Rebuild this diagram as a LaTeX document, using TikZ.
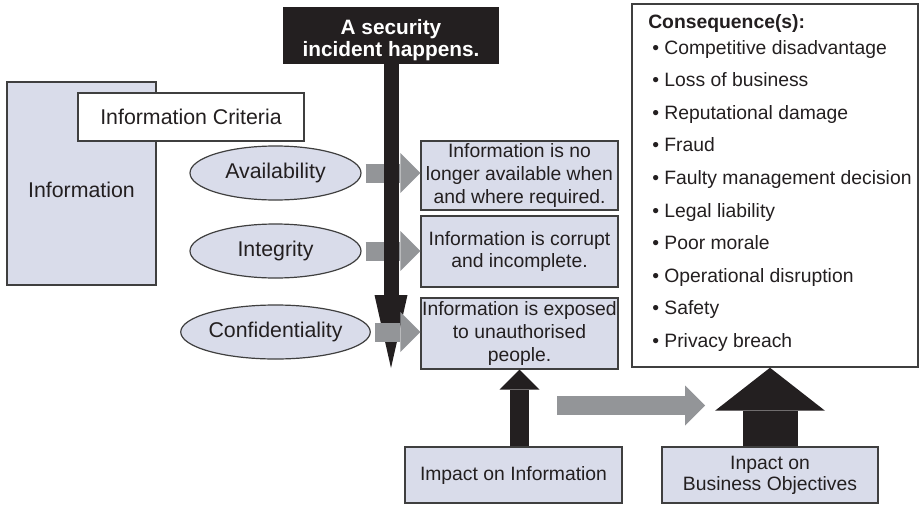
\documentclass[tikz,border=0pt]{standalone}
\usepackage{fontspec}
\setmainfont{Liberation Sans}
\usetikzlibrary{arrows.meta,shapes.geometric,calc}
\definecolor{lav}{HTML}{D9DCEA}
\definecolor{ink}{HTML}{231F20}
\definecolor{arrgray}{HTML}{939598}
\definecolor{edge}{HTML}{3F3F3F}
% lengths given in pixel units (1px = 0.75pt)
\newcommand\pxu[1]{#1*0.75pt}
\begin{document}
\begin{tikzpicture}[x=0.75pt,y=-0.75pt,
  font=\fontsize{14.5}{17}\selectfont, text=ink,
  box/.style={draw=edge, line width=0.8pt, fill=lav, inner sep=0pt, align=center},
  boxtext/.style={font=\fontsize{14.5}{16.9}\selectfont},
  labeltext/.style={font=\fontsize{16}{18}\selectfont},
  oval/.style={ellipse, draw=edge, line width=0.9pt, fill=lav, inner sep=0pt,
               minimum width=\pxu{171}, minimum height=\pxu{54}, labeltext},
  titlebox/.style={fill=ink, text=white, inner sep=0pt, align=center,
                   font=\fontsize{15.6}{16}\selectfont\bfseries,
                   minimum width=\pxu{216}, minimum height=\pxu{57}},
  grayarrow/.style={draw=arrgray, line width=14.25pt,
                    -{Triangle[length=15pt,width=30pt,line width=0pt]}},
  blackarrow/.style={draw=ink, line width=14.25pt,
                     -{Triangle[length=15pt,width=30pt,line width=0pt]}},
  incarrow/.style={draw=ink, line width=11.25pt,
                   -{Triangle[length=54.75pt,width=24.75pt,line width=0pt]}},
  bigarrow/.style={draw=ink, line width=41.25pt,
                   -{Triangle[length=32.25pt,width=82.5pt,line width=0pt]}},
]
\useasboundingbox (0,0) rectangle (922,507);

% information and its criteria
\node[box, labeltext, minimum width=\pxu{149}, minimum height=\pxu{203}] (info) at (81.5,183.5) {\rule{0pt}{21pt}Information};
\node[box, labeltext, fill=white, minimum width=\pxu{226}, minimum height=\pxu{48}] (crit) at (191,117) {Information Criteria};
\node[oval] (avail) at (275.5,173) {Availability};
\node[oval] (integ) at (275.5,251) {Integrity};
\node[oval] (conf) at (275.5,332) {Confidentiality};

% the incident
\node[titlebox] (incident) at (391,35.5) {\rule{0pt}{18pt}A security\\incident happens.};
\coordinate (inctip) at (391,368);

% effects on the information
\node[box, boxtext, minimum width=\pxu{197}, minimum height=\pxu{69}] (lost) at (519.5,175.5) {Information is no\\longer available when\\and where required.};
\node[box, boxtext, minimum width=\pxu{197}, minimum height=\pxu{71}] (corrupt) at (519.5,251.5) {Information is corrupt\\and incomplete.};
\node[box, boxtext, minimum width=\pxu{197}, minimum height=\pxu{71}] (exposed) at (519.5,333.5) {Information is exposed\\to unauthorised\\people.};

% consequences
\node[draw=edge, line width=1.1pt, fill=white, minimum width=\pxu{286}, minimum height=\pxu{363}, inner sep=0pt] (cons) at (775,185.5) {};
\node[anchor=north west, align=left, inner sep=0pt, font=\fontsize{14.5}{24.45}\selectfont] (conslist) at (648,14.5)
 {\textbf{Consequence(s):}\\[-5.5pt]
  \hspace*{3pt}• Competitive disadvantage\\
  \hspace*{3pt}• Loss of business\\
  \hspace*{3pt}• Reputational damage\\
  \hspace*{3pt}• Fraud\\
  \hspace*{3pt}• Faulty management decision\\
  \hspace*{3pt}• Legal liability\\
  \hspace*{3pt}• Poor morale\\
  \hspace*{3pt}• Operational disruption\\
  \hspace*{3pt}• Safety\\
  \hspace*{3pt}• Privacy breach};

% impacts
\node[box, minimum width=\pxu{217}, minimum height=\pxu{56}] (impinfo) at (513.5,475) {Impact on Information};
\node[box, minimum width=\pxu{216}, minimum height=\pxu{56}, font=\fontsize{14.5}{15.75}\selectfont] (impbiz) at (770,475) {Inpact on\\Business Objectives};
\coordinate (flowstart) at (557,405.5);
\coordinate (flowend) at (705,405.5);

% connectors
\draw[grayarrow] ($(avail.east)+(4,0)$) -- (avail.east -| lost.west);
\draw[grayarrow] ($(integ.east)+(4,0)$) -- (integ.east -| corrupt.west);
\draw[incarrow] (incident.south) -- (inctip);
\draw[grayarrow] ($(conf.east)+(4,0)$) -- (conf.east -| exposed.west);
\draw[blackarrow] (impinfo.north -| exposed.south) -- (exposed.south);
\draw[grayarrow] (flowstart) -- (flowend);
\draw[bigarrow] (impbiz.north) -- (impbiz.north |- cons.south);
\end{tikzpicture}
\end{document}
